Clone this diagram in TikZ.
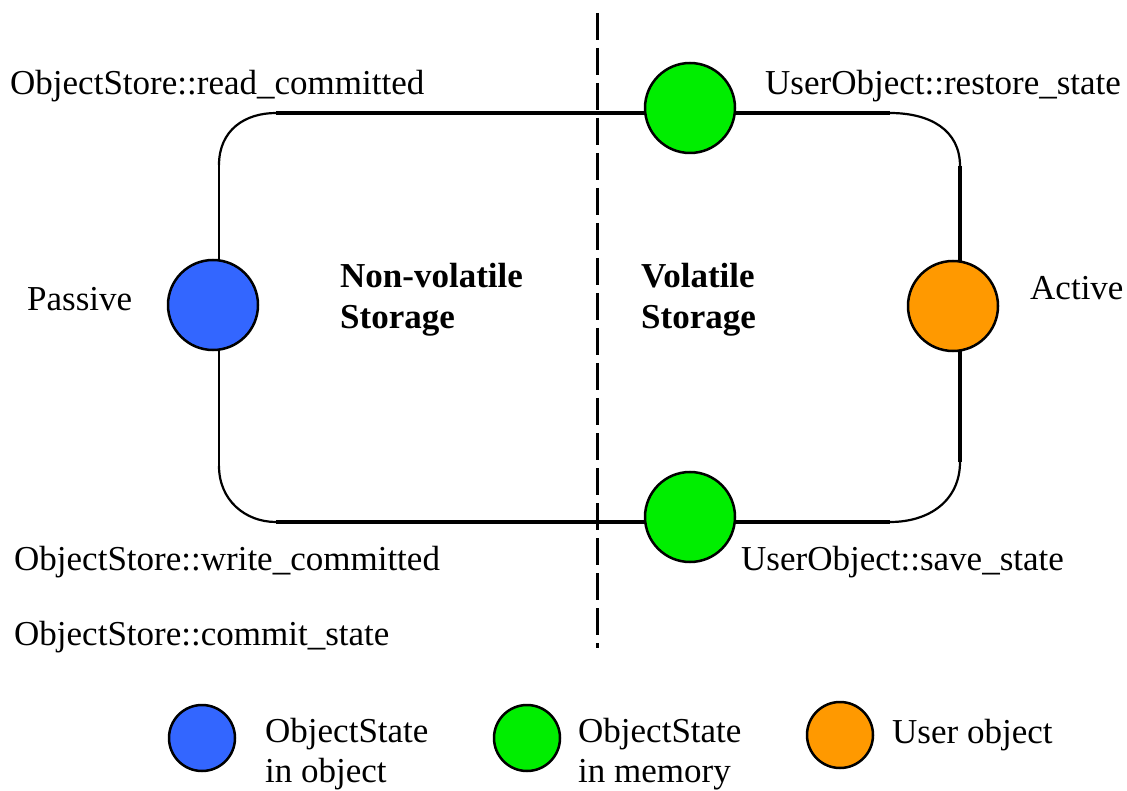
\documentclass[tikz,border=0pt]{standalone}
\usepackage{fontspec}
\setmainfont{Liberation Serif}
\usetikzlibrary{backgrounds}
\definecolor{cblue}{HTML}{3366FF}
\definecolor{cgreen}{HTML}{00EE00}
\definecolor{corange}{HTML}{FF9900}
\tikzset{
  state/.style={circle, draw=black, line width=2.5pt, minimum size=90pt, inner sep=0pt},
  legendstate/.style={circle, draw=black, line width=2.5pt, minimum size=66pt, inner sep=0pt},
  lbl/.style={anchor=base west, inner sep=0pt, font=\fontsize{35}{41}\selectfont},
  blbl/.style={anchor=base west, inner sep=0pt, align=left, font=\fontsize{35}{41}\selectfont\bfseries},
  thickline/.style={line width=4.5pt},
  thinline/.style={line width=2.2pt},
}
\begin{document}
\begin{tikzpicture}[x=1pt,y=-1pt]
\useasboundingbox (0,0) rectangle (1127,791);

% state circles
\node[state, fill=cblue] (passive) at (213,305) {};
\node[state, fill=corange] (active) at (953,306) {};
\node[state, fill=cgreen] (gtop) at (690,108) {};
\node[state, fill=cgreen] (gbot) at (690,517) {};

% corner coordinates
\coordinate (tlh) at (276,113);
\coordinate (tlv) at (219,165);
\coordinate (blv) at (219,466);
\coordinate (blh) at (276,522);
\coordinate (trh) at (890,113);
\coordinate (trv) at (960,166);
\coordinate (brv) at (960,462);
\coordinate (brh) at (890,522);
\coordinate (dtop) at (597,13);
\coordinate (dbot) at (597,648);

\begin{pgfonlayer}{background}
  \draw[thickline] (tlh) -- (gtop.west |- tlh) -- (trh);
  \draw[thickline] (blh) -- (gbot.west |- blh) -- (brh);
  \draw[thinline] (tlv) -- (tlv |- passive) -- (blv);
  \draw[thickline] (trv) -- (trv |- active) -- (brv);
  \draw[thinline] (tlv) .. controls (219,130) and (245,113) .. (tlh);
  \draw[thinline] (blv) .. controls (219,500) and (245,522) .. (blh);
  \draw[thinline] (trh) .. controls (930,113) and (960,130) .. (trv);
  \draw[thinline] (brv) .. controls (960,500) and (930,522) .. (brh);
  \draw[line width=3pt, dash pattern=on 27pt off 8pt] (dtop) -- (dbot);
\end{pgfonlayer}

% labels
\node[lbl] (lrc) at (10,95) {ObjectStore::read\_committed};
\node[lbl] (lrs) at (765,95) {UserObject::restore\_state};
\node[lbl] (lpa) at (27,311) {Passive};
\node[lbl] (lac) at (1030,300) {Active};
\node[blbl] (lnv) at (340,329) {Non-volatile\\Storage};
\node[blbl] (lvo) at (641,329) {Volatile\\Storage};
\node[lbl] (lwc) at (14,570) {ObjectStore::write\_committed};
\node[lbl] (lss) at (741,570) {UserObject::save\_state};
\node[lbl] (lcs) at (14,645) {ObjectStore::commit\_state};

% legend
\node[legendstate, fill=cblue] (kb) at (202,738) {};
\node[legendstate, fill=cgreen] (kg) at (527,738) {};
\node[legendstate, fill=corange] (ko) at (840,735) {};
\node[lbl, align=left, font=\fontsize{35}{40}\selectfont] (tb) at (265,782) {ObjectState\\in object};
\node[lbl, align=left, font=\fontsize{35}{40}\selectfont] (tg) at (578,782) {ObjectState\\in memory};
\node[lbl] (to) at (892,743) {User object};
\end{tikzpicture}
\end{document}
